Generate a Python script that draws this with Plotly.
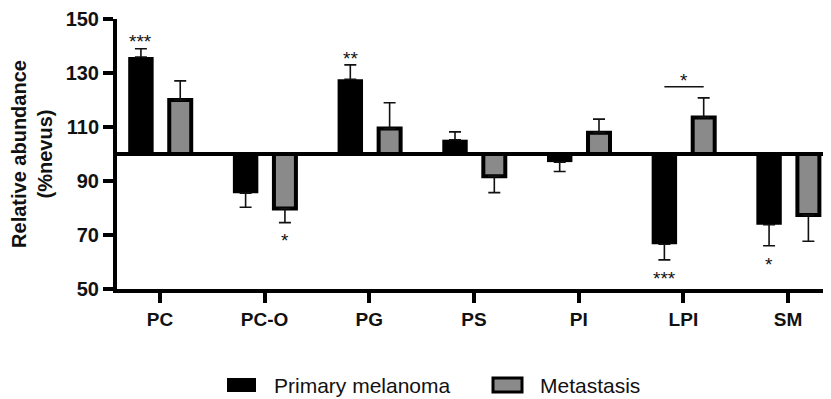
import plotly.graph_objects as go

# ---------------- data ----------------
categories = ["PC", "PC-O", "PG", "PS", "PI", "LPI", "SM"]
primary_mean = [135.9, 85.5, 127.7, 105.3, 97.0, 66.6, 73.8]
primary_err = [3.1, 5.2, 5.3, 2.9, 3.5, 5.8, 7.8]
metastasis_mean = [120.0, 79.8, 109.4, 91.8, 107.9, 113.5, 77.4]
metastasis_err = [7.1, 5.2, 9.6, 6.1, 5.0, 7.3, 9.7]
series_names = ["Primary melanoma", "Metastasis"]
y_ticks = [50, 70, 90, 110, 130, 150]
reference_level = 100

# significance marks: (category, series index, label)
significance = [("PC", 0, "***"), ("PC-O", 1, "*"), ("PG", 0, "**"),
                ("LPI", 0, "***"), ("SM", 0, "*")]
# bracket comparison between series within a category
bracket = ("LPI", "*")

# ---------------- style ----------------
FONT = "Liberation Sans, Arial, Helvetica, sans-serif"
BLACK = "#000000"
GRAY = "#8a8a8a"
WIN_W, WIN_H = 831, 399
BODY = 8  # default page body margin
W, H = WIN_W - BODY, WIN_H - BODY
ML, MR, MT, MB = 117 - BODY, 0, 19 - BODY, 110

# bar geometry (in category units)
bw = [0.243, 0.21]
boff = [-0.303, 0.089]
centers = [boff[i] + bw[i] / 2 for i in range(2)]

x = list(range(len(categories)))
means = [primary_mean, metastasis_mean]
errs = [primary_err, metastasis_err]

fig = go.Figure()
for s in range(2):
    up = [e if m >= reference_level else 0 for m, e in zip(means[s], errs[s])]
    down = [e if m < reference_level else 0 for m, e in zip(means[s], errs[s])]
    fig.add_trace(go.Bar(
        x=x,
        y=[m - reference_level for m in means[s]],
        base=reference_level,
        name=series_names[s],
        width=bw[s],
        offset=boff[s],
        marker=dict(color=BLACK if s == 0 else GRAY,
                    line=dict(color=BLACK, width=0 if s == 0 else 4)),
        error_y=dict(type="data", symmetric=False, array=up, arrayminus=down,
                     color="#111111", thickness=1.6, width=6),
        showlegend=False,
    ))

# baseline at 100
shapes = [dict(type="line", xref="paper", yref="y", x0=0, x1=1,
               y0=reference_level, y1=reference_level,
               line=dict(color=BLACK, width=4), layer="above")]

annotations = []
PAD_UP, PAD_DOWN = 4.0, 5.3
STAR_SIZE = 19
for cat, s, label in significance:
    i = categories.index(cat)
    m, e = means[s][i], errs[s][i]
    if m >= reference_level:
        yv = m + e + PAD_UP
    else:
        yv = m - e - PAD_DOWN
    annotations.append(dict(x=i + centers[s], y=yv, xref="x", yref="y",
                            text=label, showarrow=False, yanchor="middle",
                            yshift=-4,
                            font=dict(family=FONT, size=STAR_SIZE, color="#111111")))

# bracket
bi = categories.index(bracket[0])
top = max(means[0][bi] + errs[0][bi], means[1][bi] + errs[1][bi])
by = top + 4.1
shapes.append(dict(type="line", xref="x", yref="y",
                   x0=bi + centers[0], x1=bi + centers[1], y0=by, y1=by,
                   line=dict(color="#111111", width=1.6)))
annotations.append(dict(x=bi + (centers[0] + centers[1]) / 2, y=by + 3.7,
                        xref="x", yref="y", text=bracket[1], showarrow=False,
                        yanchor="middle", yshift=-4,
                        font=dict(family=FONT, size=STAR_SIZE, color="#111111")))

# manual legend below the plot (paper coordinates from window pixel positions)
plot_w = W - ML - MR
plot_h = H - MT - MB


def px_x(px):
    return (px - BODY - ML) / plot_w


def px_y(py):
    return (BODY + H - MB - py) / plot_h


legend_items = [(227, 256, 272), (493, 522, 538)]
for s, (x0, x1, tx) in enumerate(legend_items):
    shapes.append(dict(type="rect", xref="paper", yref="paper",
                       x0=px_x(x0), x1=px_x(x1), y0=px_y(392), y1=px_y(378),
                       fillcolor=BLACK if s == 0 else GRAY,
                       line=dict(color=BLACK, width=0 if s == 0 else 3)))
    annotations.append(dict(x=px_x(tx), y=px_y(385), xref="paper", yref="paper",
                            text=series_names[s], showarrow=False,
                            xanchor="left", yanchor="middle",
                            font=dict(family=FONT, size=21, color="#111111")))

fig.update_layout(
    width=W, height=H,
    margin=dict(l=ML, r=MR, t=MT, b=MB),
    paper_bgcolor="white", plot_bgcolor="white",
    barmode="overlay",
    shapes=shapes,
    annotations=annotations,
    font=dict(family=FONT, color="#111111"),
    xaxis=dict(
        range=[-0.41, 6.41],
        tickmode="array", tickvals=x, ticktext=categories,
        showline=True, linecolor=BLACK, linewidth=4,
        ticks="outside", ticklen=10, tickwidth=4, tickcolor=BLACK,
        showgrid=False, zeroline=False,
        tickfont=dict(family=FONT, size=19, color="#111111", weight="bold"),
    ),
    yaxis=dict(
        range=[50, 150],
        tickmode="array", tickvals=y_ticks,
        showline=True, linecolor=BLACK, linewidth=4,
        ticks="outside", ticklen=10, tickwidth=4, tickcolor=BLACK,
        showgrid=False, zeroline=False,
        tickfont=dict(family=FONT, size=20, color="#111111", weight="bold"),
        title=dict(text="Relative abundance<br>(%nevus)", standoff=14,
                   font=dict(family=FONT, size=20, color="#111111", weight="bold")),
    ),
)

fig.write_html("out.html")
